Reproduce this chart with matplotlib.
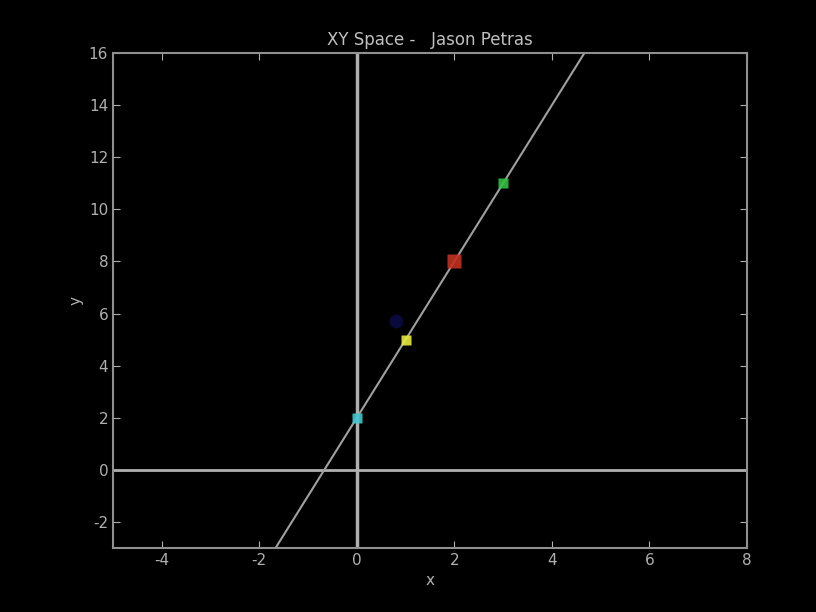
import numpy as np
import matplotlib.pyplot as plt

plt.rcParams["axes.unicode_minus"] = False

# line y = 3x + 2 and the sampled points on it
slope = 3
intercept = 2
line_x = [-5, 8]
pts_x = [0, 1, 2, 3]
pts_y = [2, 5, 8, 11]
pts_colors = ["#40c8d0", "#e8e840", "#c03020", "#30c040"]
pts_sizes = [7, 7, 10, 7]
# faint blue point near the yellow one
blue_x = [0.8]
blue_y = [5.7]

xticks = [-4, -2, 0, 2, 4, 6, 8]
yticks = [-2, 0, 2, 4, 6, 8, 10, 12, 14, 16]

fig = plt.figure(figsize=(8.16, 6.12), dpi=100, facecolor="black")
ax = fig.add_axes([0.1385, 0.1046, 0.7769, 0.8088], facecolor="black")

ax.axhline(0, color="#b0b0b0", lw=2)
ax.axvline(0, color="#b0b0b0", lw=2.5)

lx = np.array(line_x, dtype=float)
ax.plot(lx, slope * lx + intercept, color="#a0a0a0", lw=1.5)

ax.plot(blue_x, blue_y, "o", color="#0a0a3a", ms=10, mec="none")
for x, y, c, s in zip(pts_x, pts_y, pts_colors, pts_sizes):
    ax.plot(x, y, "s", color=c, ms=s, mec="none", alpha=0.9)

ax.set_xlim(-5, 8)
ax.set_ylim(-3, 16)
ax.set_xticks(xticks)
ax.set_yticks(yticks)
ax.tick_params(colors="#b0b0b0", direction="in", top=True, right=True,
               labelsize=11, length=5)
for sp in ax.spines.values():
    sp.set_color("#909090")
    sp.set_linewidth(1.5)

ax.set_title("XY Space -   Jason Petras", color="#c0c0c0", fontsize=12)
ax.set_xlabel("x", color="#b0b0b0", fontsize=11)
ax.set_ylabel("y", color="#b0b0b0", fontsize=11)

fig.savefig("out.png", dpi=100, facecolor="black")
